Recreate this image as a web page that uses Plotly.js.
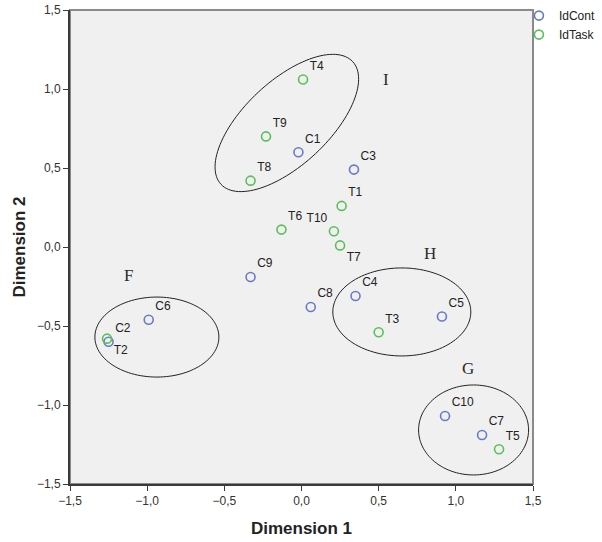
<!DOCTYPE html>
<html>
<head>
<meta charset="utf-8">
<script src="https://cdn.plot.ly/plotly-3.0.1.min.js"></script>
<style>
  html, body { margin: 0; padding: 0; background: #fff; }
  #chart { width: 602px; height: 542px; }
</style>
</head>
<body>
<div id="chart"></div>
<script>
// ---- Data ----
const contLabels = ['C1', 'C2', 'C3', 'C4', 'C5', 'C6', 'C7', 'C8', 'C9', 'C10'];
const contX = [-0.02, -1.25, 0.34, 0.35, 0.91, -0.99, 1.17, 0.06, -0.33, 0.93];
const contY = [0.60, -0.60, 0.49, -0.31, -0.44, -0.46, -1.19, -0.38, -0.19, -1.07];

const taskLabels = ['T1', 'T2', 'T3', 'T4', 'T5', 'T6', 'T7', 'T8', 'T9', 'T10'];
const taskX = [0.26, -1.26, 0.50, 0.01, 1.28, -0.13, 0.25, -0.33, -0.23, 0.21];
const taskY = [0.26, -0.58, -0.54, 1.06, -1.28, 0.11, 0.01, 0.42, 0.70, 0.10];

const tickVals = [-1.5, -1.0, -0.5, 0.0, 0.5, 1.0, 1.5];

const clusterLabels = ['I', 'H', 'F', 'G'];
const clusterX = [0.55, 0.83, -1.12, 1.08];
const clusterY = [1.06, -0.04, -0.18, -0.77];

// ---- Styling / decoration ----
const contPos = contLabels.map(l => 'top right');
const taskPos = taskLabels.map(l => l === 'T10' ? 'top left' : (l === 'T7' || l === 'T2') ? 'bottom right' : 'top right');

// Ellipses: centre in data units, semi-axes in pixels, rotation in degrees
const ellipses = [
  {cx: -0.095, cy: 0.785, a: 90, b: 42, rot: 43},
  {cx: -0.937, cy: -0.570, a: 62, b: 40, rot: 0},
  {cx: 0.650, cy: -0.411, a: 69, b: 44, rot: 0},
  {cx: 1.115, cy: -1.158, a: 55, b: 45, rot: 0}
];
const pxPerX = 463 / 3, pxPerY = 474 / 3;
function ellipsePath(e) {
  const th = e.rot * Math.PI / 180;
  let d = '';
  const n = 120;
  for (let i = 0; i <= n; i++) {
    const t = 2 * Math.PI * i / n;
    const dx = e.a * Math.cos(t) * Math.cos(th) - e.b * Math.sin(t) * Math.sin(th);
    const dy = e.a * Math.cos(t) * Math.sin(th) + e.b * Math.sin(t) * Math.cos(th);
    const x = e.cx + dx / pxPerX, y = e.cy + dy / pxPerY;
    d += (i === 0 ? 'M ' : ' L ') + x.toFixed(4) + ' ' + y.toFixed(4);
  }
  return d + ' Z';
}

const shapes = [
  {type: 'rect', xref: 'paper', yref: 'paper', x0: 0, x1: 1, y0: 0, y1: 1,
   line: {color: '#8a8a8a', width: 2}, layer: 'below'}
].concat(ellipses.map(e => ({
  type: 'path', xref: 'x', yref: 'y', path: ellipsePath(e),
  line: {color: '#222', width: 1}, layer: 'below'
})));

const annotations = clusterLabels.map((t, i) => ({
  x: clusterX[i], y: clusterY[i], xref: 'x', yref: 'y', text: t, showarrow: false,
  font: {family: 'Liberation Serif, Times New Roman, serif', size: 17, color: '#2a2a2a'}
}));

const labelFont = {family: 'Liberation Sans, Arial, sans-serif', size: 12, color: '#222'};

const traces = [
  {
    type: 'scatter', mode: 'markers+text', name: 'IdCont',
    x: contX, y: contY, text: contLabels, textposition: contPos, textfont: labelFont,
    marker: {symbol: 'circle-open', size: 9, color: '#6a7bc6', line: {width: 1.6}},
    cliponaxis: false, hoverinfo: 'text'
  },
  {
    type: 'scatter', mode: 'markers+text', name: 'IdTask',
    x: taskX, y: taskY, text: taskLabels, textposition: taskPos, textfont: labelFont,
    marker: {symbol: 'circle-open', size: 9, color: '#5cbf5a', line: {width: 1.6}},
    cliponaxis: false, hoverinfo: 'text'
  }
];

const axisCommon = {
  range: [-1.5, 1.5], tickvals: tickVals, tickformat: '.1f',
  showgrid: false, zeroline: false,
  showline: true, linecolor: '#3a3a3a', linewidth: 2,
  ticks: 'outside', ticklen: 5, tickcolor: '#3a3a3a', tickwidth: 1,
  tickfont: {family: 'Liberation Sans, Arial, sans-serif', size: 12, color: '#333'},
  automargin: false
};

const layout = {
  width: 602, height: 542,
  margin: {l: 70, r: 69, t: 10, b: 58, autoexpand: false},
  paper_bgcolor: '#ffffff', plot_bgcolor: '#f0f0f0',
  separators: ',.',
  showlegend: true,
  legend: {
    xref: 'container', yref: 'container',
    x: 0.862, y: 0.998, xanchor: 'left', yanchor: 'top',
    font: {family: 'Liberation Sans, Arial, sans-serif', size: 12, color: '#222'},
    bgcolor: 'rgba(0,0,0,0)', tracegroupgap: 0, itemwidth: 30
  },
  xaxis: Object.assign({}, axisCommon, {
    title: {text: 'Dimension 1', standoff: 15,
      font: {family: 'Liberation Sans, Arial, sans-serif', size: 17, color: '#222', weight: 'bold'}}
  }),
  yaxis: Object.assign({}, axisCommon, {
    title: {text: 'Dimension 2', standoff: 7,
      font: {family: 'Liberation Sans, Arial, sans-serif', size: 17, color: '#222', weight: 'bold'}}
  }),
  shapes: shapes,
  annotations: annotations
};

Plotly.newPlot('chart', traces, layout, {displayModeBar: false, staticPlot: true});
</script>
</body>
</html>
